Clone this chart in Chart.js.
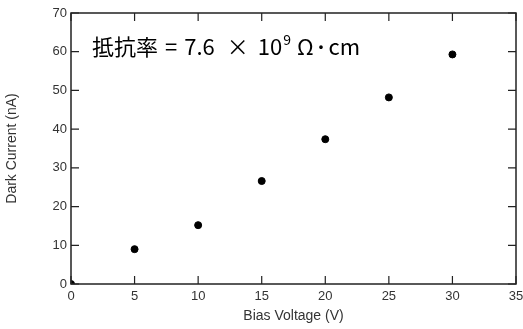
<!DOCTYPE html>
<html>
<head>
<meta charset="utf-8">
<script src="https://cdn.jsdelivr.net/npm/chart.js@4"></script>
<style>
  html, body { margin: 0; padding: 0; background: #fff; }
  #wrap { width: 523px; height: 329px; }
</style>
</head>
<body>
<div id="wrap"><canvas id="chart" width="523" height="329"></canvas></div>
<script>
// Bias voltage (V) vs dark current (nA)
const biasVoltage = [0, 5, 10, 15, 20, 25, 30];
const darkCurrent = [0, 9.0, 15.2, 26.6, 37.4, 48.2, 59.3];
const xTicks = [0, 5, 10, 15, 20, 25, 30, 35];
const yTicks = [0, 10, 20, 30, 40, 50, 60, 70];
// note pieces: [text, size, dy, gapAfter]
const notePieces = [
    ['抵抗率', 22, 0, 7],
    ['=', 22, 0, 7],
    ['7.6', 22, 0, 12],
    ['×', 22, 0, 9],
    ['10', 22, 0, 1],
    ['9', 14, -7, 6],
    ['Ω', 22, 0, 2],
    ['･', 22, 0, 2],
    ['cm', 22, 0, 0]
];

const axisColor = '#222';
const labelFont = '"Liberation Sans", Arial, sans-serif';

// inward tick marks on all four sides + frame
const frameTicks = {
    id: 'frameTicks',
    afterDraw(chart) {
        const ctx = chart.ctx;
        const a = chart.chartArea;
        const xs = chart.scales.x, ys = chart.scales.y;
        const len = 8;
        ctx.save();
        ctx.strokeStyle = axisColor;
        ctx.lineWidth = 1.5;
        ctx.strokeRect(a.left, a.top, a.right - a.left, a.bottom - a.top);
        ctx.lineWidth = 1.2;
        ctx.beginPath();
        xTicks.forEach(v => {
            const px = xs.getPixelForValue(v);
            ctx.moveTo(px, a.bottom); ctx.lineTo(px, a.bottom - len);
            ctx.moveTo(px, a.top); ctx.lineTo(px, a.top + len);
        });
        yTicks.forEach(v => {
            const py = ys.getPixelForValue(v);
            ctx.moveTo(a.left, py); ctx.lineTo(a.left + len, py);
            ctx.moveTo(a.right, py); ctx.lineTo(a.right - len, py);
        });
        ctx.stroke();

        // resistivity note
        let nx = xs.getPixelForValue(1.65);
        const ny = ys.getPixelForValue(61.3);
        ctx.fillStyle = '#000';
        ctx.textBaseline = 'middle';
        ctx.textAlign = 'left';
        notePieces.forEach(([t, size, dy, gap]) => {
            ctx.font = size + 'px "Noto Sans CJK JP", sans-serif';
            ctx.fillText(t, nx, ny + dy);
            nx += ctx.measureText(t).width + gap;
        });
        ctx.restore();
    }
};

new Chart(document.getElementById('chart'), {
    type: 'scatter',
    data: {
        datasets: [{
            data: biasVoltage.map((v, i) => ({ x: v, y: darkCurrent[i] })),
            backgroundColor: '#000',
            borderColor: '#000',
            pointRadius: 3.5,
            pointHoverRadius: 3.5
        }]
    },
    options: {
        responsive: false,
        animation: false,
        layout: { padding: { top: 13, right: 7, left: 0, bottom: 0 } },
        plugins: { legend: { display: false }, tooltip: { enabled: false } },
        scales: {
            x: {
                type: 'linear',
                min: 0, max: 35,
                afterBuildTicks: s => { s.ticks = xTicks.map(v => ({ value: v })); },
                afterFit: s => { s.height = 45; s.paddingLeft = 0; s.paddingRight = 0; },
                grid: { display: false, drawTicks: false },
                border: { display: false },
                ticks: { color: '#333', font: { family: labelFont, size: 13 }, padding: 5, maxRotation: 0 },
                title: { display: true, text: 'Bias Voltage (V)', color: '#333', font: { family: labelFont, size: 14 }, padding: { top: 1 } }
            },
            y: {
                type: 'linear',
                min: 0, max: 70,
                afterBuildTicks: s => { s.ticks = yTicks.map(v => ({ value: v })); },
                afterFit: s => { s.width = 71; s.paddingTop = 0; s.paddingBottom = 0; },
                grid: { display: false, drawTicks: false },
                border: { display: false },
                ticks: { color: '#333', font: { family: labelFont, size: 13 }, padding: 4 },
                title: { display: true, text: 'Dark Current (nA)', color: '#333', font: { family: labelFont, size: 14 }, padding: { bottom: 2 } }
            }
        }
    },
    plugins: [frameTicks]
});
</script>
</body>
</html>
